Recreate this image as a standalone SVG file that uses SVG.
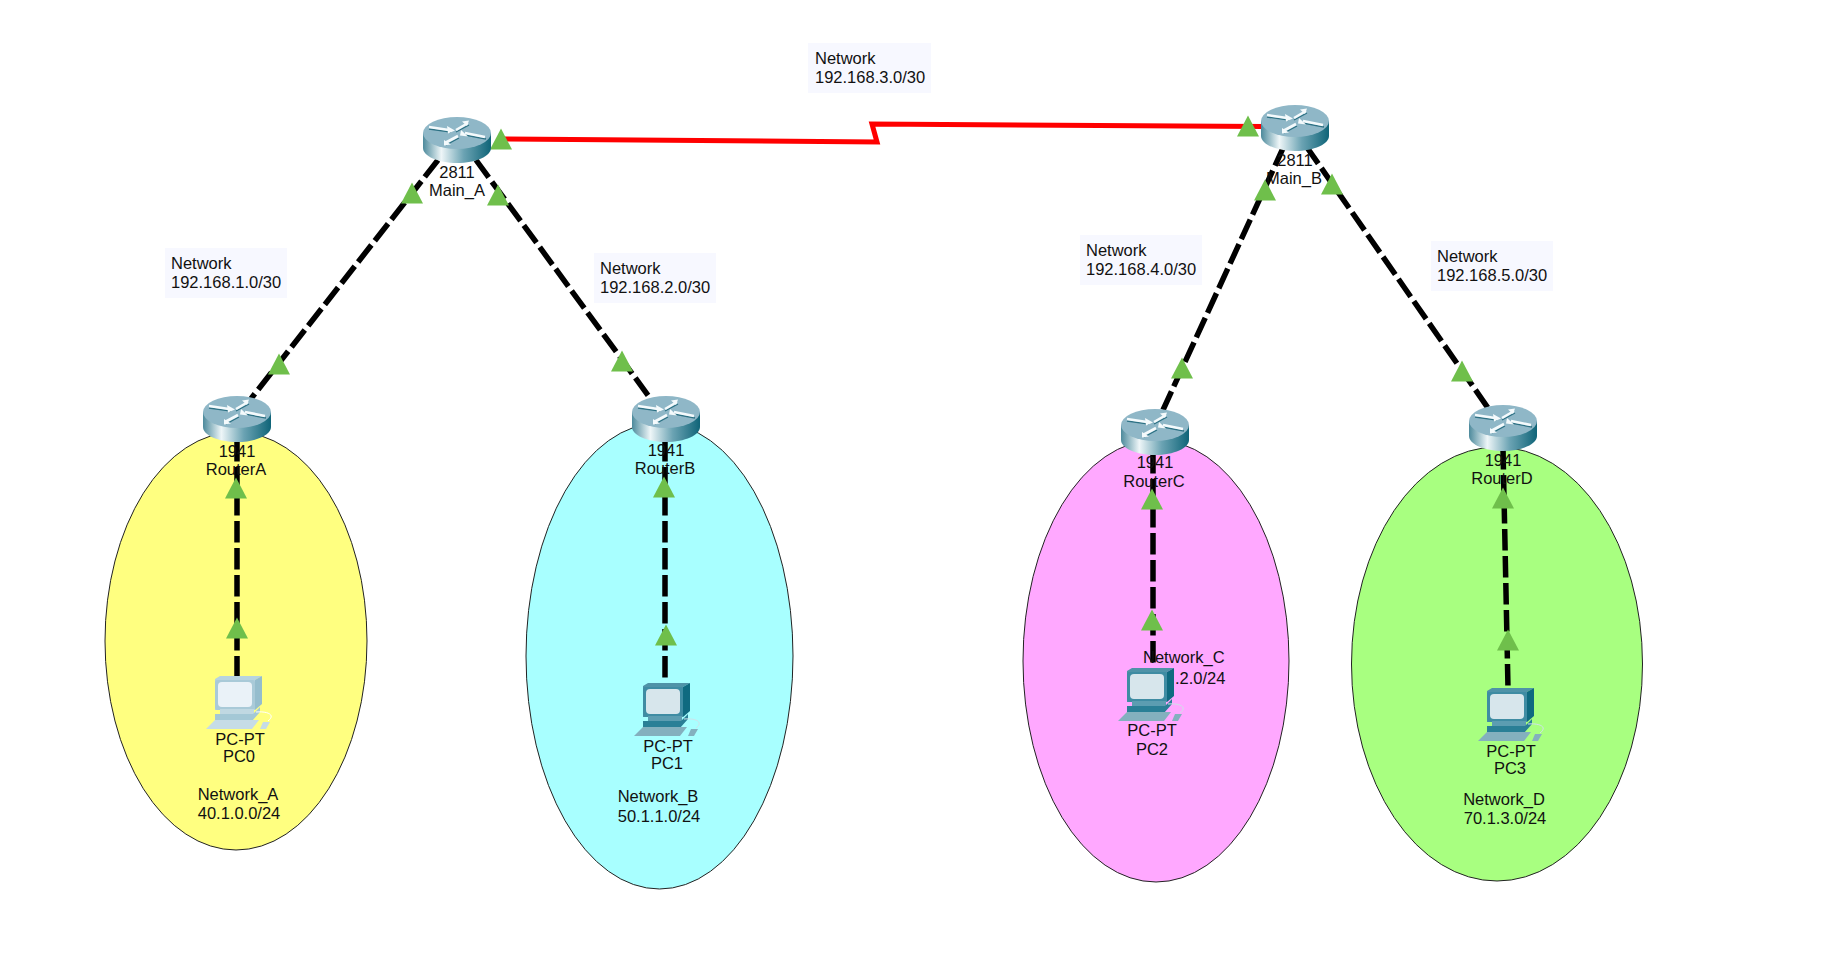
<svg xmlns="http://www.w3.org/2000/svg" width="1822" height="966" viewBox="0 0 1822 966">
<style>
text{font-family:"Liberation Sans",Arial,sans-serif;font-size:16.5px;fill:#111}
.m{text-anchor:middle}
.dash{stroke:#000;stroke-width:5.5;stroke-dasharray:21.5 5.5;fill:none}
.tri{fill:#6fbf4b}
.note{fill:#f7f8ff}
.zone{stroke:#222;stroke-width:1}
.wa{fill:none;stroke:#f4fafc;stroke-width:2.6}
.da{fill:none;stroke:#2d7184;stroke-width:1.4}
</style>
<defs>
<linearGradient id="rside" x1="0" x2="1" y1="0" y2="0">
<stop offset="0" stop-color="#4d8a9c"/><stop offset=".27" stop-color="#eef6f8"/><stop offset=".6" stop-color="#6ba3b3"/><stop offset="1" stop-color="#0f6478"/>
</linearGradient>
<symbol id="router" width="68" height="46" viewBox="0 0 68 46" overflow="visible">
<path d="M0 16V31C0 39 15 46 34 46S68 39 68 31V16Z" fill="url(#rside)"/>
<ellipse cx="34" cy="16" rx="34" ry="16" fill="#8fb7c7"/>
<path class="da" d="M6 12L28 15M33 15L46 8M63 22L42 18M23 28L36 21"/>
<path class="wa" d="M6 10L26 13M33 13L45 6M62 20L42 16M22 26L35 19"/>
<path d="M24 9L32 13.500L25 16.500ZM46 3.500L39 4.500L44 9ZM38 13L45 19.500L37 18.500ZM21 23L21 28.500L28 27.500Z" fill="#f4fafc"/>
</symbol>
<symbol id="pc" width="70" height="56" viewBox="0 0 70 56" overflow="visible">
<path d="M9 4L14 1H56L49 5V35H9Z" fill="#4f93a8"/>
<path d="M49 5L56 1V29L49 35Z" fill="#0f6a80"/>
<rect x="9" y="5" width="40" height="30" rx="2" fill="#3f8ca3"/>
<rect x="12" y="7" width="34" height="25" rx="4" fill="#d7e6ec"/>
<path d="M14 34H48V40H14Z" fill="#5c9db1"/>
<path d="M9 39H47L54 32V37L46 46H9Z" fill="#2a7f96"/>
<path d="M0 54L9 45H53L46 54Z" fill="#84b0be"/>
<path d="M54 54L57 47H64L60 54Z" fill="#84b0be"/>
<path d="M50 37C62 36 70 40 62 46" fill="none" stroke="#cfe3ea" stroke-width="1"/>
</symbol>
<symbol id="pc0" width="70" height="56" viewBox="0 0 70 56" overflow="visible">
<path d="M9 4L14 1H56L49 5V35H9Z" fill="#b7d4e0"/>
<path d="M49 5L56 1V29L49 35Z" fill="#95bdcd"/>
<rect x="9" y="5" width="40" height="30" rx="2" fill="#a9cad8"/>
<rect x="12" y="7" width="34" height="25" rx="4" fill="#eaf2f8"/>
<path d="M14 34H48V40H14Z" fill="#c0d8e2"/>
<path d="M9 39H47L54 32V37L46 46H9Z" fill="#a4c8d6"/>
<path d="M0 54L9 45H53L46 54Z" fill="#c6dce6"/>
<path d="M54 54L57 47H64L60 54Z" fill="#c6dce6"/>
<path d="M50 37C62 36 70 40 62 46" fill="none" stroke="#fff" stroke-width="1"/>
</symbol>
<path id="t" class="tri" d="M0 -11.500L11 9.500H-11Z"/>
</defs>

<g id="zones">
<ellipse class="zone" cx="236" cy="641" rx="131" ry="209" fill="#ffff80"/>
<ellipse class="zone" cx="659.500" cy="656" rx="133.500" ry="233" fill="#a8ffff"/>
<ellipse class="zone" cx="1156" cy="661" rx="133" ry="221" fill="#ffa8ff"/>
<ellipse class="zone" cx="1497" cy="664" rx="145.500" ry="217" fill="#a8ff80"/>
</g>

<g id="connectors">
<path d="M500 139L877 142L872 124L1264 126.500" fill="none" stroke="#f00" stroke-width="5"/>
<path class="dash" d="M438 160L250 400"/>
<path class="dash" d="M476 160L650 398"/>
<path class="dash" d="M1284 146L1163 410"/>
<path class="dash" d="M1306 146L1488 408"/>
<path class="dash" d="M237 440V676"/>
<path class="dash" d="M665 440V684"/>
<path class="dash" d="M1153 452V668"/>
<path class="dash" d="M1503 448L1508 688"/>
</g>
<g id="link-lights">
<use href="#t" x="501" y="140"/>
<use href="#t" x="1248" y="127"/>
<use href="#t" x="412" y="194"/>
<use href="#t" x="498" y="196"/>
<use href="#t" x="279" y="365"/>
<use href="#t" x="622" y="362"/>
<use href="#t" x="1265" y="191"/>
<use href="#t" x="1332" y="185"/>
<use href="#t" x="1182" y="369"/>
<use href="#t" x="1462" y="372"/>
<use href="#t" x="236" y="489"/>
<use href="#t" x="237" y="629"/>
<use href="#t" x="664" y="488"/>
<use href="#t" x="666" y="636"/>
<use href="#t" x="1152" y="500"/>
<use href="#t" x="1152" y="621"/>
<use href="#t" x="1503" y="499"/>
<use href="#t" x="1508" y="641"/>
</g>

<g id="Main_A"><use href="#router" x="423" y="117"/><text class="m" x="457" y="178">2811</text><text class="m" x="457" y="196">Main_A</text></g>
<g id="Main_B"><use href="#router" x="1261" y="105"/><text class="m" x="1295" y="166">2811</text><text class="m" x="1294" y="184">Main_B</text></g>
<g id="RouterA"><use href="#router" x="203" y="396"/><text class="m" x="237" y="457">1941</text><text class="m" x="236" y="475">RouterA</text></g>
<g id="RouterB"><use href="#router" x="632" y="396"/><text class="m" x="666" y="456">1941</text><text class="m" x="665" y="474">RouterB</text></g>
<g id="RouterC"><use href="#router" x="1121" y="409"/><text class="m" x="1155" y="468">1941</text><text class="m" x="1154" y="487">RouterC</text></g>
<g id="RouterD"><use href="#router" x="1469" y="405"/><text class="m" x="1503" y="466">1941</text><text class="m" x="1502" y="484">RouterD</text></g>

<g id="PC0"><use href="#pc0" x="206" y="675"/><text class="m" x="240" y="745">PC-PT</text><text class="m" x="239" y="762">PC0</text></g>
<g id="PC1"><use href="#pc" x="634" y="682"/><text class="m" x="668" y="752">PC-PT</text><text class="m" x="667" y="769">PC1</text></g>
<g id="PC2"><use href="#pc" x="1118" y="667"/><text class="m" x="1152" y="736">PC-PT</text><text class="m" x="1152" y="755">PC2</text></g>
<g id="PC3"><use href="#pc" x="1478" y="687"/><text class="m" x="1511" y="757">PC-PT</text><text class="m" x="1510" y="774">PC3</text></g>

<g id="label-zones">
<text class="m" x="238" y="800">Network_A</text><text class="m" x="239" y="819">40.1.0.0/24</text>
<text class="m" x="658" y="802">Network_B</text><text class="m" x="659" y="822">50.1.1.0/24</text>
<text x="1143" y="663">Network_C</text><text x="1175" y="684">.2.0/24</text>
<text class="m" x="1504" y="805">Network_D</text><text class="m" x="1505" y="824">70.1.3.0/24</text>
</g>
<g id="label-links">
<g id="net3"><rect class="note" x="808" y="43" width="123" height="50"/><text x="815" y="64">Network</text><text x="815" y="83">192.168.3.0/30</text></g>
<g id="net1"><rect class="note" x="165" y="248" width="122" height="50"/><text x="171" y="269">Network</text><text x="171" y="288">192.168.1.0/30</text></g>
<g id="net2"><rect class="note" x="594" y="253" width="122" height="50"/><text x="600" y="274">Network</text><text x="600" y="293">192.168.2.0/30</text></g>
<g id="net4"><rect class="note" x="1080" y="235" width="122" height="50"/><text x="1086" y="256">Network</text><text x="1086" y="275">192.168.4.0/30</text></g>
<g id="net5"><rect class="note" x="1431" y="241" width="122" height="50"/><text x="1437" y="262">Network</text><text x="1437" y="281">192.168.5.0/30</text></g>
</g>
</svg>
